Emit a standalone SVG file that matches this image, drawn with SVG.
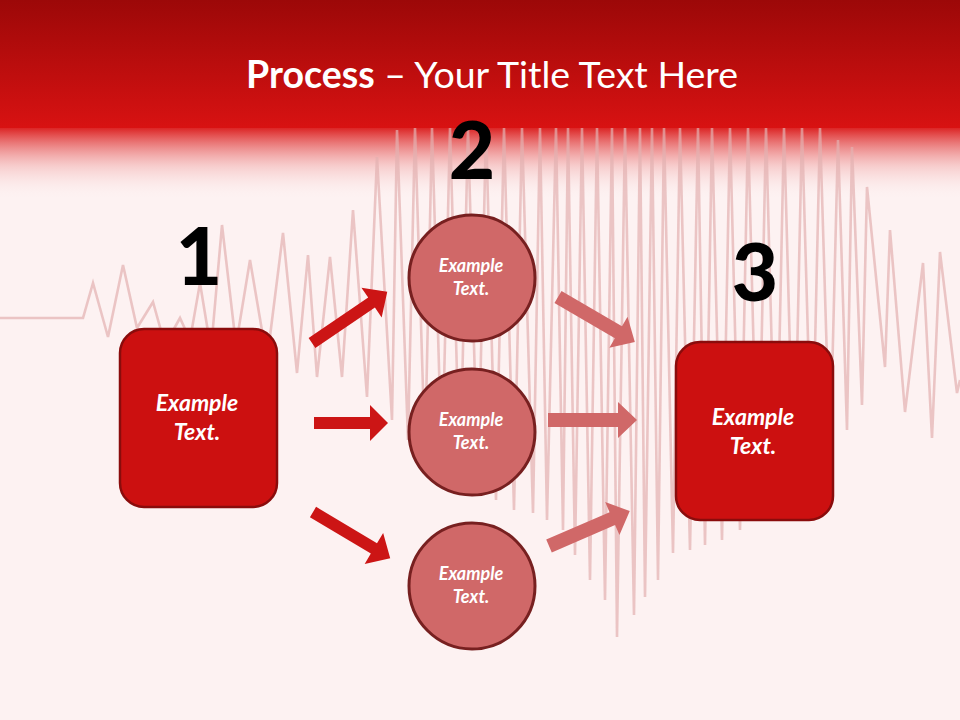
<svg xmlns="http://www.w3.org/2000/svg" width="960" height="720" viewBox="0 0 960 720">
<defs>
<linearGradient id="hdr" x1="0" y1="0" x2="0" y2="1">
<stop offset="0" stop-color="#9c0808"/>
<stop offset="1" stop-color="#d81212"/>
</linearGradient>
<linearGradient id="fade" x1="0" y1="0" x2="0" y2="1">
<stop offset="0" stop-color="#d81212" stop-opacity="1"/>
<stop offset="0.15" stop-color="#e03a3a" stop-opacity="0.85"/>
<stop offset="0.55" stop-color="#f0a0a0" stop-opacity="0.45"/>
<stop offset="1" stop-color="#fdf2f2" stop-opacity="0"/>
</linearGradient>
</defs>
<style>
.wave{fill:none;stroke:#e2b0b0;stroke-width:2.6;stroke-linejoin:miter;stroke-opacity:0.7}
.box{fill:#cc1010;stroke:#8a0c0c;stroke-width:2.5}
.circ{fill:#d06868;stroke:#772020;stroke-width:3}
.lbl{font-family:Lato,"Open Sans",sans-serif;font-style:italic;font-weight:bold;fill:#ffffff;text-anchor:middle}
.big{font-size:23px}
.small{font-size:18px}
.num{font-family:Lato,"Open Sans",sans-serif;font-weight:900;font-size:80px;fill:#000000;text-anchor:middle}
.a1{fill:#cc1515}
.a2{fill:#d06868}
</style>
<rect x="0" y="0" width="960" height="720" fill="#fdf2f2"/>
<rect x="0" y="125" width="960" height="75" fill="url(#fade)"/>
<polyline class="wave" points="0,318 83,318 93,283 108,337 123,265 137,328 153,302 165,345 180,318 190,340 200,283 211,350 222,225 236,345 250,260 267,360 283,233 297,373 308,255 317,377 330,257 342,377 353,210 367,397 377,157 392,420 397,130 408,440 415,128 425,455 432,128 442,470 450,128 460,480 468,128 478,490 486,128 496,500 504,128 514,510 522,128 533,513 540,128 547,520 556,128 563,530 568,128 575,555 582,128 590,580 597,128 605,600 612,128 617,637 625,128 634,615 640,128 645,597 652,128 658,580 664,128 673,553 680,128 690,550 698,128 705,545 712,128 722,540 730,128 740,530 748,128 758,520 766,128 776,510 784,128 794,500 802,128 812,480 820,128 830,460 838,140 847,430 852,147 862,405 867,187 885,367 890,230 905,412 923,263 932,438 940,252 957,393 960,380"/>
<rect x="0" y="0" width="960" height="128" fill="url(#hdr)"/>
<text x="492" y="88" font-family="Lato,'Open Sans',sans-serif" font-size="37.5" fill="#ffffff" text-anchor="middle"><tspan font-weight="bold">Process</tspan> – Your Title Text Here</text>
<g id="connectors">
<g class="a1">
<polygon transform="translate(312,343) rotate(-34.2)" points="0,-6 72,-6 72,-18 91,0 72,18 72,6 0,6"/>
<polygon transform="translate(314,423)" points="0,-6 56,-6 56,-18 74,0 56,18 56,6 0,6"/>
<polygon transform="translate(313,512) rotate(30.9)" points="0,-6 71,-6 71,-18 90,0 71,18 71,6 0,6"/>
</g>
<g class="a2">
<polygon transform="translate(558,297) rotate(30.3)" points="0,-7 70,-7 70,-18 89,0 70,18 70,7 0,7"/>
<polygon transform="translate(548,420)" points="0,-7 70,-7 70,-18 89,0 70,18 70,7 0,7"/>
<polygon transform="translate(549,546) rotate(-23.4)" points="0,-7 69,-7 69,-18 88,0 69,18 69,7 0,7"/>
</g>
</g>
<g id="node1">
<text class="num" x="199" y="285">1</text>
<rect class="box" x="120" y="329" width="157" height="178" rx="24"/>
<text class="lbl big" x="197" y="411">Example</text>
<text class="lbl big" x="197" y="440">Text.</text>
</g>
<g id="node2">
<text class="num" x="472" y="179">2</text>
<circle class="circ" cx="472" cy="278" r="63"/>
<text class="lbl small" x="471" y="272">Example</text>
<text class="lbl small" x="471" y="295">Text.</text>
</g>
<g id="node2b">
<circle class="circ" cx="472" cy="432" r="63"/>
<text class="lbl small" x="471" y="426">Example</text>
<text class="lbl small" x="471" y="449">Text.</text>
</g>
<g id="node2c">
<circle class="circ" cx="472" cy="586" r="63"/>
<text class="lbl small" x="471" y="580">Example</text>
<text class="lbl small" x="471" y="603">Text.</text>
</g>
<g id="node3">
<text class="num" x="755" y="301">3</text>
<rect class="box" x="676" y="342" width="157" height="178" rx="24"/>
<text class="lbl big" x="753" y="425">Example</text>
<text class="lbl big" x="753" y="454">Text.</text>
</g>
</svg>
